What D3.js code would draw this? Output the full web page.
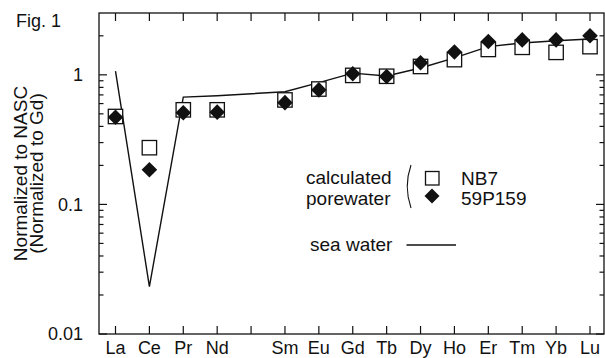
<!DOCTYPE html>
<html>
<head>
<meta charset="utf-8">
<script src="https://cdn.jsdelivr.net/npm/d3@7"></script>
<style>
  html, body { margin: 0; padding: 0; background: #fff; }
  svg { display: block; font-family: "Liberation Sans", Arial, Helvetica, sans-serif; }
</style>
</head>
<body>
<svg id="chart" width="605" height="358"></svg>
<script>
// REE order on the axis (Pm has a tick but no label / data)
const elements = ["La","Ce","Pr","Nd","Pm","Sm","Eu","Gd","Tb","Dy","Ho","Er","Tm","Yb","Lu"];
const labelled = ["La","Ce","Pr","Nd","Sm","Eu","Gd","Tb","Dy","Ho","Er","Tm","Yb","Lu"];

// calculated porewater, NB7 (open squares)
const nb7 = [0.477, 0.274, 0.537, 0.537, 0.64, 0.777, 0.99, 0.975, 1.16, 1.31, 1.57, 1.63, 1.49, 1.65];
// calculated porewater, 59P159 (filled diamonds)
const p59 = [0.47, 0.185, 0.51, 0.515, 0.61, 0.765, 1.02, 0.97, 1.24, 1.5, 1.81, 1.86, 1.86, 2.0];
// sea water (line)
const seaWater = [1.07, 0.0232, 0.673, 0.69, 0.74, 0.87, 1.03, 0.98, 1.13, 1.35, 1.65, 1.76, 1.83, 1.89];

const yMajor = [0.01, 0.1, 1];
const yMinor = [0.02,0.03,0.04,0.05,0.06,0.07,0.08,0.09,0.2,0.3,0.4,0.5,0.6,0.7,0.8,0.9,2];

const box = {left: 99, right: 604, top: 13, bottom: 334};
const ink = "#111";

const svg = d3.select("#chart");

const x = d3.scalePoint().domain(elements).range([115.5, 590]);
const y = d3.scaleLog().domain([0.01, 3]).range([box.bottom, box.top]);

// frame
svg.append("rect")
    .attr("x", box.left).attr("y", box.top)
    .attr("width", box.right - box.left).attr("height", box.bottom - box.top)
    .attr("fill", "none").attr("stroke", ink).attr("stroke-width", 1.3);

// x ticks (inward, top and bottom)
const g = svg.append("g").attr("stroke", ink).attr("stroke-width", 1.2);
elements.forEach(e => {
    g.append("line").attr("x1", x(e)).attr("x2", x(e)).attr("y1", box.bottom).attr("y2", box.bottom - 8);
    g.append("line").attr("x1", x(e)).attr("x2", x(e)).attr("y1", box.top).attr("y2", box.top + 8);
});
// y ticks (inward, left and right)
yMajor.concat(yMinor).forEach(v => {
    const len = yMajor.includes(v) ? 8 : 4.5;
    g.append("line").attr("x1", box.left).attr("x2", box.left + len).attr("y1", y(v)).attr("y2", y(v));
    g.append("line").attr("x1", box.right).attr("x2", box.right - len).attr("y1", y(v)).attr("y2", y(v));
});

// tick labels
svg.append("g").selectAll("text").data(labelled).join("text")
    .attr("x", d => x(d)).attr("y", 354)
    .attr("text-anchor", "middle").attr("font-size", 18).attr("fill", ink)
    .text(d => d);

svg.append("g").selectAll("text").data(yMajor).join("text")
    .attr("x", 83).attr("y", d => y(d)).attr("dy", "0.35em")
    .attr("text-anchor", "end").attr("font-size", 18).attr("fill", ink)
    .text(d => d3.format("~g")(d));

// axis title
const yt = svg.append("text")
    .attr("transform", `translate(0,${(box.top + box.bottom) / 2}) rotate(-90)`)
    .attr("text-anchor", "middle").attr("font-size", 19).attr("fill", ink);
yt.append("tspan").attr("x", 0).attr("y", 27).text("Normalized to NASC");
yt.append("tspan").attr("x", 0).attr("y", 43).text("(Normalized to Gd)");

svg.append("text").attr("x", 16).attr("y", 27).attr("font-size", 18).attr("fill", ink).text("Fig. 1");

// sea water line
const line = d3.line().x(d => x(d[0])).y(d => y(d[1]));
svg.append("path")
    .datum(labelled.map((e, i) => [e, seaWater[i]]))
    .attr("d", line)
    .attr("fill", "none").attr("stroke", ink).attr("stroke-width", 1.4);

const diamond = r => `M0,${-r}L${r},0L0,${r}L${-r},0Z`;

// NB7 squares
svg.append("g").selectAll("rect").data(labelled.map((e, i) => [e, nb7[i]])).join("rect")
    .attr("x", d => x(d[0]) - 7.2).attr("y", d => y(d[1]) - 7.2)
    .attr("width", 14.4).attr("height", 14.4)
    .attr("fill", "#fff").attr("stroke", ink).attr("stroke-width", 1.3);

// 59P159 diamonds
svg.append("g").selectAll("path").data(labelled.map((e, i) => [e, p59[i]])).join("path")
    .attr("transform", d => `translate(${x(d[0])},${y(d[1])})`)
    .attr("d", diamond(7.8))
    .attr("fill", ink);

// legend
const lg = svg.append("g").attr("font-size", 19).attr("fill", ink);
lg.append("text").attr("x", 306).attr("y", 184).text("calculated");
lg.append("text").attr("x", 306).attr("y", 205).text("porewater");
lg.append("path").attr("d", "M411,165 Q403.5,186.5 411,208")
    .attr("fill", "none").attr("stroke", ink).attr("stroke-width", 1.1);
lg.append("rect").attr("x", 425.5).attr("y", 171.5).attr("width", 13.5).attr("height", 13.5)
    .attr("fill", "#fff").attr("stroke", ink).attr("stroke-width", 1.3);
lg.append("path").attr("transform", "translate(432,196)").attr("d", diamond(7.5)).attr("fill", ink);
lg.append("text").attr("x", 461).attr("y", 185).text("NB7");
lg.append("text").attr("x", 461).attr("y", 205).text("59P159");
lg.append("text").attr("x", 310).attr("y", 251).text("sea water");
lg.append("line").attr("x1", 406.5).attr("x2", 456).attr("y1", 245).attr("y2", 245)
    .attr("stroke", ink).attr("stroke-width", 1.3);
</script>
</body>
</html>
